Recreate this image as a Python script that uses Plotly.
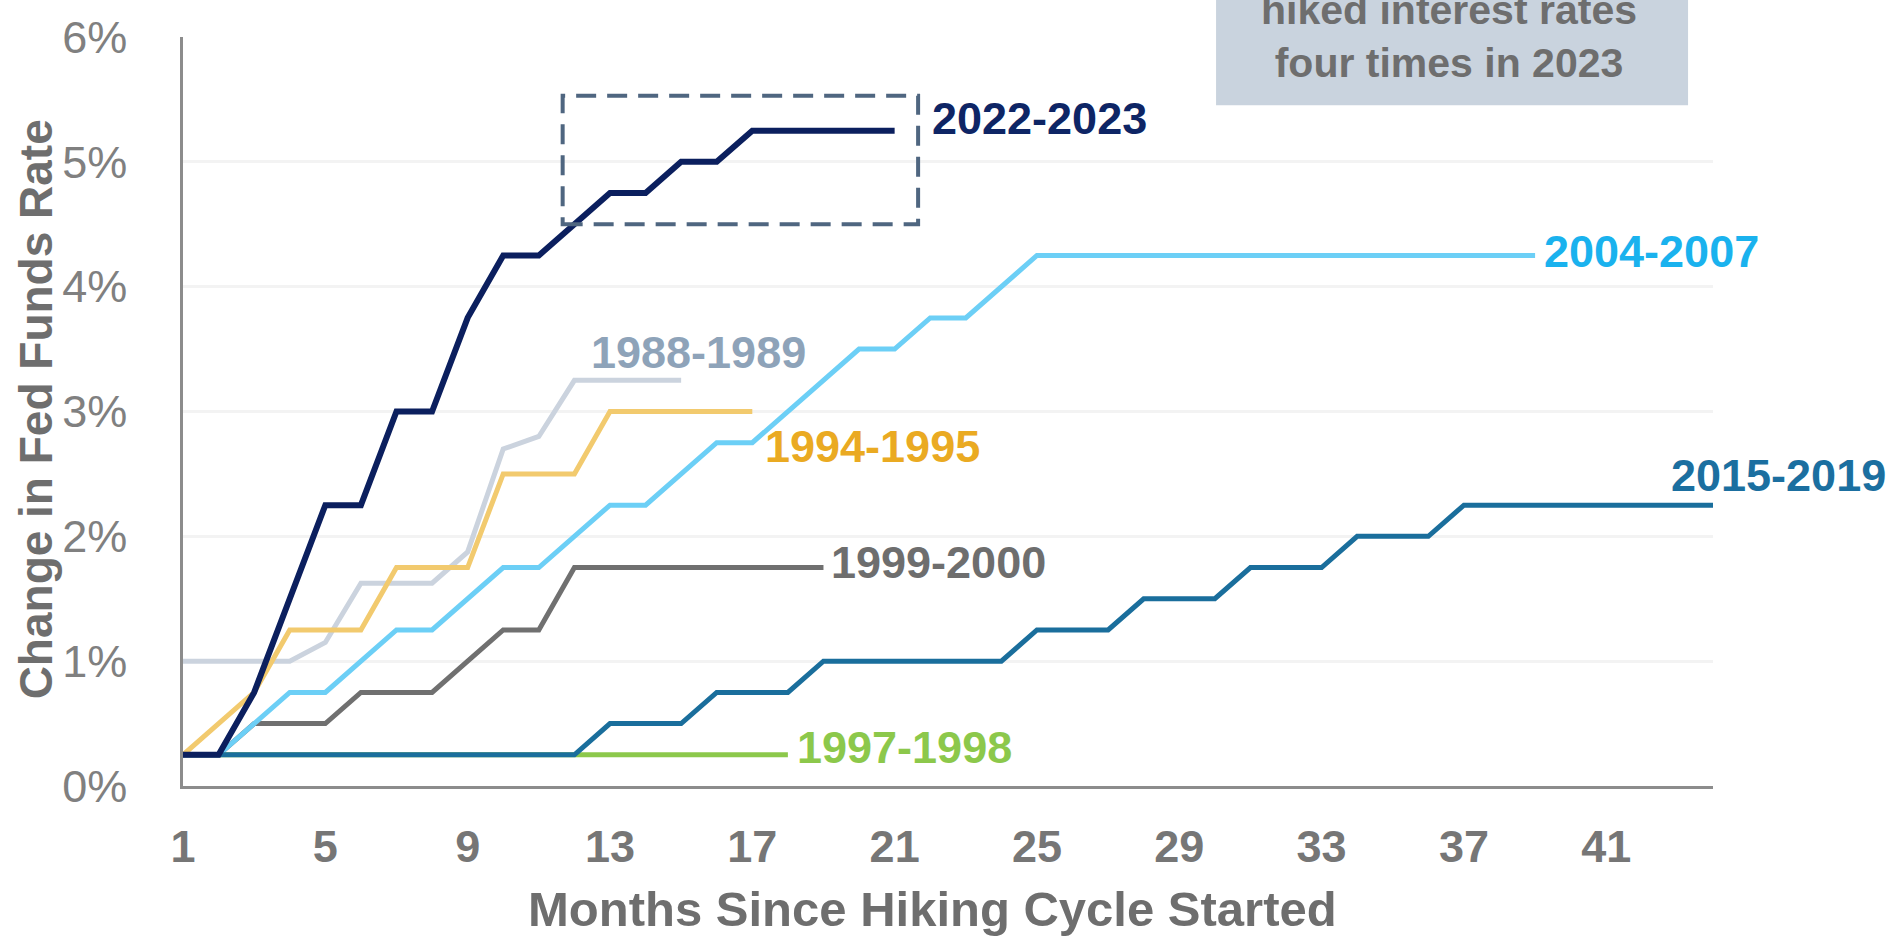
import plotly.graph_objects as go

# months since the first hike of each cycle
months = list(range(1, 45))

# change in fed funds rate (percentage points) by month
cycle_2022 = [0.25, 0.25, 0.75, 1.5, 2.25, 2.25, 3.0, 3.0, 3.75, 4.25, 4.25, 4.5, 4.75, 4.75,
              5.0, 5.0, 5.25, 5.25, 5.25, 5.25, 5.25]
cycle_2004 = [0.25, 0.25, 0.5, 0.75, 0.75, 1.0, 1.25, 1.25, 1.5, 1.75, 1.75, 2.0, 2.25, 2.25,
              2.5, 2.75, 2.75, 3.0, 3.25, 3.5, 3.5, 3.75, 3.75, 4.0, 4.25, 4.25, 4.25, 4.25,
              4.25, 4.25, 4.25, 4.25, 4.25, 4.25, 4.25, 4.25, 4.25, 4.25, 4.25]
cycle_1988 = [1.0, 1.0, 1.0, 1.0, 1.15, 1.625, 1.625, 1.625, 1.875, 2.7, 2.8, 3.25, 3.25, 3.25, 3.25]
cycle_1994 = [0.25, 0.5, 0.75, 1.25, 1.25, 1.25, 1.75, 1.75, 1.75, 2.5, 2.5, 2.5, 3.0, 3.0,
              3.0, 3.0, 3.0]
cycle_1999 = [0.25, 0.25, 0.5, 0.5, 0.5, 0.75, 0.75, 0.75, 1.0, 1.25, 1.25, 1.75, 1.75, 1.75,
              1.75, 1.75, 1.75, 1.75, 1.75]
cycle_1997 = [0.25] * 18
cycle_2015 = [0.25, 0.25, 0.25, 0.25, 0.25, 0.25, 0.25, 0.25, 0.25, 0.25, 0.25, 0.25, 0.5, 0.5,
              0.5, 0.75, 0.75, 0.75, 1.0, 1.0, 1.0, 1.0, 1.0, 1.0, 1.25, 1.25, 1.25, 1.5, 1.5,
              1.5, 1.75, 1.75, 1.75, 2.0, 2.0, 2.0, 2.25, 2.25, 2.25, 2.25, 2.25, 2.25, 2.25, 2.25]

x_ticks = [1, 5, 9, 13, 17, 21, 25, 29, 33, 37, 41]
y_ticks = [0, 1, 2, 3, 4, 5, 6]

FONT = "Liberation Sans, Arial, sans-serif"
GREY = "#6e6e6e"

# (name, values, line colour, label colour, width, label x, label y) - drawn bottom to top
series = [
    ("1997-1998", cycle_1997, "#8cc84b", "#8cc84b", 5, 18.2, 0.31),
    ("1999-2000", cycle_1999, "#707070", "#6e6e6e", 5, 19.15, 1.79),
    ("1988-1989", cycle_1988, "#cbd3de", "#8ea3b9", 5, 12.4, 3.47),
    ("1994-1995", cycle_1994, "#f2ca6e", "#eaaa22", 5, 17.3, 2.72),
    ("2004-2007", cycle_2004, "#6ccff6", "#1ab2ee", 5, 39.2, 4.28),
    ("2015-2019", cycle_2015, "#1a6e9c", "#1b6fa0", 5, 42.75, 2.49),
    ("2022-2023", cycle_2022, "#0b1f5e", "#0e2565", 6, 22.0, 5.35),
]

fig = go.Figure()
for name, vals, lc, tc, w, lx, ly in series:
    fig.add_trace(go.Scatter(x=months[:len(vals)], y=vals, mode='lines', name=name,
                             line=dict(color=lc, width=w), showlegend=False, cliponaxis=False))
    fig.add_annotation(x=lx, y=ly, xref='x', yref='y', text=f"<b>{name}</b>", showarrow=False,
                       xanchor='left', yanchor='middle',
                       font=dict(family=FONT, size=45, color=tc))

# dashed highlight round the 2023 hikes
fig.add_shape(type='rect', xref='x', yref='y', x0=11.67, x1=21.66, y0=4.5, y1=5.53,
              line=dict(color='#4f6680', width=4, dash='20px,11px'))

# callout box at the top right (its first line runs off the top of the image)
fig.add_shape(type='rect', xref='paper', yref='paper', x0=0.6752, x1=0.9837, y0=0.909, y1=1.2,
              fillcolor='#c9d3de', line=dict(width=0), layer='above')
fig.add_annotation(xref='paper', yref='paper', x=0.8275, y=1.001, xanchor='center', yanchor='middle',
                   text="<b>hiked interest rates<br>four times in 2023</b>", showarrow=False,
                   font=dict(family=FONT, size=41, color=GREY))

# axis titles
fig.add_annotation(xref='paper', yref='paper', x=0.49, y=-0.164, xanchor='center', yanchor='middle',
                   text="<b>Months Since Hiking Cycle Started</b>", showarrow=False,
                   font=dict(family=FONT, size=49, color=GREY))
fig.add_annotation(xref='paper', yref='paper', x=-0.096, y=0.503, xanchor='center', yanchor='middle',
                   text="<b>Change in Fed Funds Rate</b>", showarrow=False, textangle=-90,
                   font=dict(family=FONT, size=46, color=GREY))

fig.update_xaxes(range=[1, 44], tickvals=x_ticks, ticktext=[str(t) for t in x_ticks],
                 showgrid=False, zeroline=False, showline=True, linecolor='#8c8c8c', linewidth=3,
                 ticks='', ticklabelstandoff=19,
                 tickfont=dict(family=FONT, size=45, color='#767676', weight='bold'))
fig.update_yaxes(range=[0, 6], tickvals=y_ticks, ticktext=[f"{t}%" for t in y_ticks],
                 showgrid=True, gridcolor='#f3f3f3', gridwidth=3, zeroline=False,
                 showline=True, linecolor='#8c8c8c', linewidth=2.5, ticks='', ticklabelstandoff=44,
                 tickfont=dict(family=FONT, size=45, color='#808080'))

fig.update_layout(width=1897, height=941, autosize=False,
                  margin=dict(l=183, r=184, t=32, b=155),
                  plot_bgcolor='white', paper_bgcolor='white', showlegend=False)

# the page body has a default 8px margin; drop it so the chart fills the window exactly
fig.write_html("out.html", config={'displayModeBar': False},
               post_script="document.body.style.margin='0px'; document.body.style.overflow='hidden';")
